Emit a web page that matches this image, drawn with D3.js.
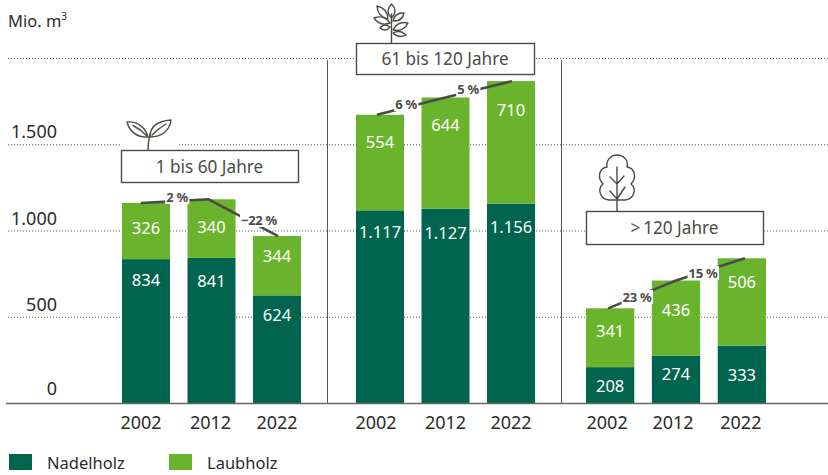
<!DOCTYPE html>
<html><head><meta charset="utf-8">
<style>html,body{margin:0;padding:0;background:#fff}svg{display:block}text{font-family:"Noto Sans",Lato,sans-serif}</style>
<script src="https://cdn.jsdelivr.net/npm/d3@7"></script></head>
<body><svg id="c" width="828" height="475"></svg>
<script>
const years = ["2002","2012","2022"];
const groups = ["1 bis 60 Jahre","61 bis 120 Jahre",">\u2009120 Jahre"];
const nadelholz = [[834,841,624],[1117,1127,1156],[208,274,333]];
const laubholz = [[326,340,344],[554,644,710],[341,436,506]];
const changes = [["2 %","\u221222 %"],["6 %","5 %"],["23 %","15 %"]];
const yTicks = [0,500,1000,1500,2000];
const seriesNames = ["Nadelholz","Laubholz"];

// layout only
const colors = {Nadelholz:"#00644f",Laubholz:"#6ab42d"};
const ink="#4b4b45", txt="#2b2b2b";
const groupRanges=[[122,301],[356,535],[586,766]];
const boxes=[{x:121,y:150,w:177,h:32},{x:356,y:43,w:178,h:31},{x:586,y:211,w:177,h:33}];
const darkOff=[[21,23,20],[22,24,23],[19,18,29]];
const lightOff=[[25,28,20],[27,27,29],[23,29,24]];
const labelPos=[[[177,197],[259,220]],[[406,104],[468,89]],[[637,297],[703,273]]];
const lineDx=[[-5,-3,1],[-3,0,1],[-2,0,3]];
const yearDx=[[-5,-1,0],[-4,0,0],[-3,-3,-1]];

const svg=d3.select("#c");
const y=d3.scaleLinear().domain([0,2000]).range([403,58]);
const fmt=v=>d3.format(",")(v).replace(/,/g,".");

svg.append("g").selectAll("line").data(yTicks.slice(1)).join("line")
 .attr("x1",8).attr("x2",828).attr("y1",d=>y(d)+.5).attr("y2",d=>y(d)+.5)
 .attr("stroke","#55554f").attr("stroke-width",1).attr("stroke-dasharray","1 2");
svg.append("g").selectAll("text").data(yTicks.slice(0,4)).join("text")
 .attr("x",57).attr("y",d=>y(d)-(d==0?8:6)).attr("text-anchor","end")
 .attr("font-size",18).attr("fill",txt).text(d=>fmt(d));
svg.append("text").attr("x",8).attr("y",27).attr("font-size",16.5).attr("fill",txt)
 .text("Mio. m").append("tspan").attr("font-size",10).attr("dy",-7).text("3");

svg.append("rect").attr("x",121).attr("y",140).attr("width",57).attr("height",8).attr("fill","#fff");

svg.append("g").selectAll("line").data([327,561]).join("line")
 .attr("x1",d=>d+.5).attr("x2",d=>d+.5).attr("y1",60).attr("y2",403)
 .attr("stroke","#55554f").attr("stroke-width",1);

groups.forEach((g,i)=>{
  const x=d3.scaleBand().domain(years).range(groupRanges[i]).paddingInner(0.267);
  const G=svg.append("g");
  const rows=years.map((yr,j)=>({yr,j,n:nadelholz[i][j],l:laubholz[i][j]}));
  G.selectAll("rect.n").data(rows).join("rect").attr("class","n")
   .attr("x",d=>x(d.yr)).attr("width",x.bandwidth())
   .attr("y",d=>y(d.n)).attr("height",d=>y(0)-y(d.n)).attr("fill",colors.Nadelholz);
  G.selectAll("rect.l").data(rows).join("rect").attr("class","l")
   .attr("x",d=>x(d.yr)).attr("width",x.bandwidth())
   .attr("y",d=>y(d.n+d.l)).attr("height",d=>y(d.n)-y(d.n+d.l)).attr("fill",colors.Laubholz);
  G.selectAll("text.n").data(rows).join("text").attr("class","n")
   .attr("x",d=>x(d.yr)+x.bandwidth()/2).attr("y",d=>y(d.n)+darkOff[i][d.j]+6)
   .attr("text-anchor","middle").attr("font-size",16.5).attr("fill","#fff").text(d=>fmt(d.n));
  G.selectAll("text.l").data(rows).join("text").attr("class","l")
   .attr("x",d=>x(d.yr)+x.bandwidth()/2).attr("y",d=>y(d.n+d.l)+lightOff[i][d.j]+6)
   .attr("text-anchor","middle").attr("font-size",16.5).attr("fill","#fff").text(d=>fmt(d.l));
  G.selectAll("text.t").data(rows).join("text").attr("class","t")
   .attr("x",d=>x(d.yr)+x.bandwidth()/2+yearDx[i][d.j]).attr("y",429)
   .attr("text-anchor","middle").attr("font-size",18).attr("fill",txt).text(d=>d.yr);
  const line=d3.line().x(d=>x(d.yr)+x.bandwidth()/2+lineDx[i][d.j]).y(d=>y(d.n+d.l));
  G.append("path").attr("d",line(rows)).attr("fill","none").attr("stroke",ink).attr("stroke-width",2.5);
  changes[i].forEach((c,k)=>{
    const t=G.append("text").attr("x",labelPos[i][k][0]).attr("y",labelPos[i][k][1]+5)
      .attr("text-anchor","middle").attr("font-size",13).attr("font-weight",700).attr("fill",ink).attr("letter-spacing",-.3).text(c);
    const b=t.node().getBBox();
    G.append("rect").attr("x",b.x-1).attr("y",b.y+2).attr("width",b.width+2).attr("height",b.height-4).attr("fill","#fff");
    G.node().appendChild(t.node());
  });
  const bx=boxes[i];
  svg.append("rect").attr("x",bx.x+.5).attr("y",bx.y+.5).attr("width",bx.w).attr("height",bx.h)
   .attr("fill","#fff").attr("stroke",ink).attr("stroke-width",1.4);
  svg.append("text").attr("x",bx.x+bx.w/2).attr("y",bx.y+bx.h/2+6.5).attr("text-anchor","middle")
   .attr("font-size",17.2).attr("fill",ink).text(g);
});

svg.append("line").attr("x1",6).attr("x2",828).attr("y1",403.5).attr("y2",403.5).attr("stroke","#666").attr("stroke-width",1.3);

seriesNames.forEach((s,i)=>{
  const lx=[9,169][i];
  svg.append("rect").attr("x",lx).attr("y",454).attr("width",23).attr("height",16).attr("fill",colors[s]);
  svg.append("text").attr("x",lx+38).attr("y",469).attr("font-size",16.5).attr("fill",txt).text(s);
});

const ic=svg.append("g").attr("fill","none").attr("stroke",ink).attr("stroke-width",1.4).attr("stroke-linecap","round").attr("stroke-linejoin","round");
ic.append("path").attr("d","M148 150C148 143 149 138 150 134");
ic.append("path").attr("d","M148 137C146 129 139 121 127 122C129 130 136 138 148 137Z M133 125.5C138 128 143 132 147 136");
ic.append("path").attr("d","M150 137C150 126 158 121 171 120C170 130 162 137 150 137Z M152 135C157 130 161 127 166 124");
ic.append("path").attr("d","M391.5 43V14");
function leaf(x0,y0,x1,y1,w){
  const mx=(x0+x1)/2,my=(y0+y1)/2,dx=x1-x0,dy=y1-y0,L=Math.hypot(dx,dy),nx=-dy/L*w,ny=dx/L*w;
  return `M${x0} ${y0}Q${mx+nx} ${my+ny} ${x1} ${y1}Q${mx-nx} ${my-ny} ${x0} ${y0}Z`;
}
[[391.5,18,391.5,4,7],[388,19,377,6,6.5],[390,23,374,18,6.5],[393,21,404,13,6],[393,30,408,23,6.5],[390,27,380,28,5],[393,33,406,35,5]].forEach(l=>{
  ic.append("path").attr("d",leaf(...l));
});
ic.append("path").attr("d","M617 211V167 M617 184L610 177 M617 184L624 176 M617 199L610 191 M617 199L625 187");
ic.append("path").attr("d","M609 200C600 199 597 189 603 184C597 178 599 168 607 167C606 160 611 155 617 155C623 155 629 160 627 167C635 168 637 178 631 184C637 189 634 199 625 200Z");
</script></body></html>
